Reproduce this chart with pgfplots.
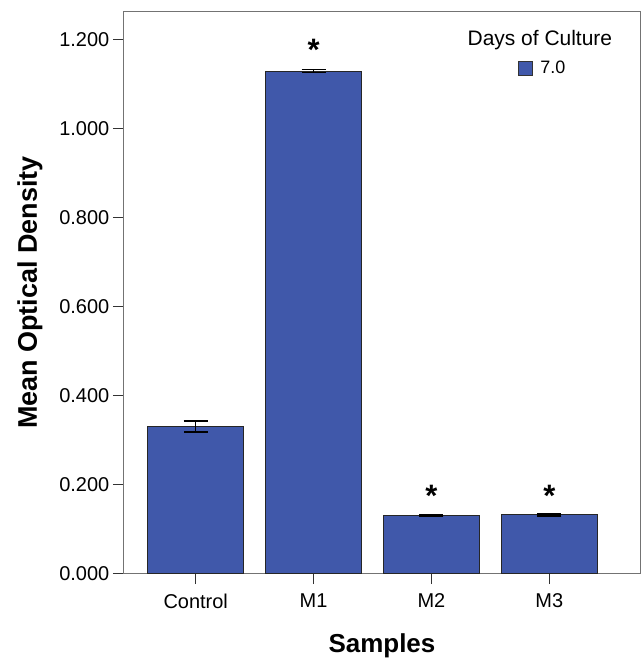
\documentclass[border=0pt]{standalone}
\usepackage{pgfplots}
\pgfplotsset{compat=1.18}
\usepackage{fontspec}
\setmainfont{Liberation Sans}
\definecolor{barblue}{RGB}{64,88,170}
\begin{document}
\begin{tikzpicture}[x=1pt,y=1pt]
\begin{axis}[
  scale only axis,
  width=517pt, height=562pt,
  xmin=-0.61, xmax=3.77,
  ymin=0, ymax=1.263,
  xtick={0,1,2,3},
  xticklabels={Control,M1,M2,M3},
  ytick={0,0.2,0.4,0.6,0.8,1.0,1.2},
  yticklabel style={font=\fontsize{20}{23}\selectfont, color=black, /pgf/number format/.cd,fixed,fixed zerofill,precision=3,assume math mode=true},
  xticklabel style={font=\fontsize{20}{23}\selectfont, color=black, yshift=-6pt},
  tick align=outside,
  xtick pos=bottom, ytick pos=left,
  major tick length=11pt,
  tick style={black!80, line width=1pt},
  axis line style={black!55, line width=1pt},
  ylabel={\bfseries Mean Optical Density},
  xlabel={\bfseries Samples},
  ylabel style={font=\fontsize{27}{30}\selectfont, at={(axis description cs:-0.182,0.5)}, anchor=center},
  xlabel style={font=\fontsize{26}{30}\selectfont, at={(axis description cs:0.5,-0.1290)}, anchor=center},
  legend style={draw=none, fill=none, inner sep=0pt, at={(axis description cs:0.764,0.900)}, anchor=west,
    font=\fontsize{18}{21}\selectfont},
  legend image code/.code={\draw[#1, draw=black!80, line width=1pt] (0pt,-7pt) rectangle (14pt,7pt); \path (19pt,0pt);},
]
\addplot[ybar, bar width=96pt, fill=barblue, draw=black!85, line width=1pt,
  error bars/.cd, y dir=both, y explicit,
  error bar style={black, line width=1.5pt}, error mark options={rotate=90, mark size=12pt, line width=1.5pt, black}]
  coordinates {
  (0,0.330) +- (0,0.012)
  (1,1.130) +- (0,0.003)
  (2,0.130) +- (0,0.001)
  (3,0.131) +- (0,0.002)
};
\addlegendentry{7.0}
\node[font=\bfseries\fontsize{31}{33}\selectfont] at (axis cs:1,1.177) {*};
\node[font=\bfseries\fontsize{31}{33}\selectfont] at (axis cs:2,0.174) {*};
\node[font=\bfseries\fontsize{31}{33}\selectfont] at (axis cs:3,0.174) {*};
\node[font=\fontsize{21}{24}\selectfont, anchor=center] at (axis cs:2.92,1.2) {Days of Culture};
\end{axis}
\path (current axis.south west) ++(-124pt,-87pt);
\path (current axis.north east) ++(3pt,12pt);
\end{tikzpicture}
\end{document}
